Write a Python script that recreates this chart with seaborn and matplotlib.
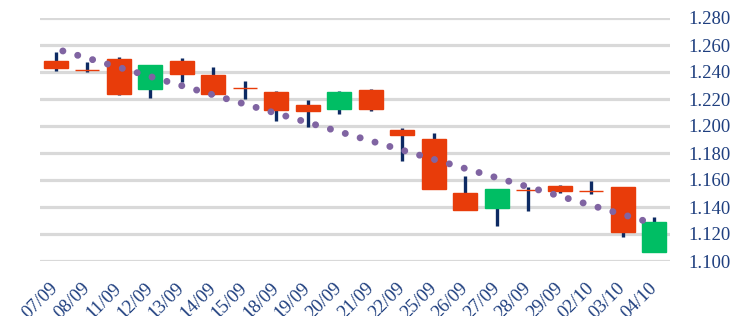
import numpy as np
import seaborn as sns
import matplotlib.pyplot as plt

# Dados
datas = ["07/09", "08/09", "11/09", "12/09", "13/09", "14/09", "15/09", "18/09", "19/09", "20/09",
         "21/09", "22/09", "25/09", "26/09", "27/09", "28/09", "29/09", "02/10", "03/10", "04/10"]
abertura = [1.2481, 1.2413, 1.2499, 1.2272, 1.2481, 1.2376, 1.2279, 1.2250, 1.2153, 1.2124,
            1.2264, 1.1970, 1.1901, 1.1506, 1.1395, 1.1526, 1.1555, 1.1519, 1.1546, 1.1064]
fechamento = [1.2430, 1.2413, 1.2235, 1.2450, 1.2383, 1.2235, 1.2279, 1.2119, 1.2113, 1.2254,
              1.2128, 1.1931, 1.1531, 1.1378, 1.1531, 1.1526, 1.1519, 1.1519, 1.1213, 1.1287]
maxima = [1.2548, 1.2474, 1.2509, 1.2450, 1.2501, 1.2437, 1.2333, 1.2257, 1.2193, 1.2259,
          1.2274, 1.1985, 1.1948, 1.1632, 1.1531, 1.1550, 1.1563, 1.1590, 1.1546, 1.1328]
minima = [1.2407, 1.2400, 1.2227, 1.2205, 1.2324, 1.2232, 1.2200, 1.2037, 1.1995, 1.2091,
          1.2113, 1.1741, 1.1531, 1.1378, 1.1261, 1.1370, 1.1501, 1.1496, 1.1176, 1.1064]

laranja = "#E83C0A"
verde = "#00BE64"
azul = "#0D2A63"
roxo = "#8064A2"
texto = "#1F3F7F"

sns.set_theme(style="white")
plt.rcParams['font.family'] = ['Liberation Serif', 'DejaVu Serif']

fig = plt.figure(figsize=(7.34, 3.16), dpi=100)
ax = fig.add_axes([40 / 734, 55 / 316, 630 / 734, 243 / 316])

x = np.arange(len(datas))
abertura = np.array(abertura)
fechamento = np.array(fechamento)
cores = [verde if c > o else laranja for o, c in zip(abertura, fechamento)]
base = np.minimum(abertura, fechamento)
altura = np.abs(fechamento - abertura)

# pavios
ax.vlines(x, minima, maxima, color=azul, lw=2.4, zorder=2)
# corpos
ax.bar(x, altura, bottom=base, width=0.76, color=cores, edgecolor=cores, linewidth=1.0, zorder=3)

# linha de tendência (regressão linear dos fechamentos)
sns.regplot(x=x, y=fechamento, ax=ax, scatter=False, ci=None, truncate=True,
            line_kws=dict(color=roxo, linewidth=5, linestyle=(1.17, (0.01, 2.22)),
                          dash_capstyle='round', zorder=4))

ax.set_xlim(-0.5, len(datas) - 0.5)
ax.set_ylim(1.100, 1.280)
ax.set_yticks(np.arange(1.100, 1.2801, 0.020))
ax.set_yticklabels([f"{v:.3f}" for v in np.arange(1.100, 1.2801, 0.020)])
ax.yaxis.tick_right()
ax.grid(axis='y', color="#D9D9D9", lw=2.3, zorder=0)
ax.set_axisbelow(True)
ax.set_xticks(x)
ax.set_xticklabels(datas, rotation=45, ha='right', va='center', rotation_mode='anchor')
ax.tick_params(axis='both', length=0, labelsize=13.5, labelcolor=texto)
ax.tick_params(axis='y', pad=13.5)
ax.tick_params(axis='x', pad=18)
for s in ax.spines.values():
    s.set_visible(False)

fig.savefig("out.png", dpi=100)
